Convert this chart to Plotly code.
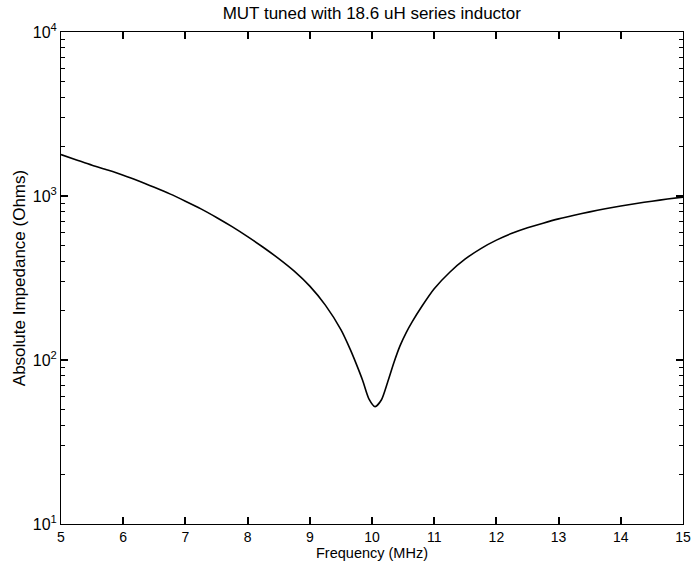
import plotly.graph_objects as go

freq_mhz = [5.0, 5.25, 5.5, 5.75, 6.0, 6.25, 6.5, 6.75, 7.0, 7.25, 7.5, 7.75, 8.0, 8.25, 8.5, 8.75,
            9.0, 9.25, 9.5, 9.65, 9.75, 9.85, 9.95, 10.05, 10.15, 10.25, 10.35, 10.45, 10.55, 10.65,
            10.8, 11.0, 11.25, 11.5, 11.75, 12.0, 12.25, 12.5, 12.75, 13.0, 13.25, 13.5, 13.75, 14.0,
            14.25, 14.5, 14.75, 15.0]
impedance_ohms = [1790, 1660, 1540, 1440, 1340, 1235, 1130, 1030, 930, 835, 740, 650, 565, 487, 415, 348,
                  282, 216, 153, 116, 94, 75, 58, 52, 57, 73, 96, 122, 147, 172,
                  212, 272, 343, 413, 478, 538, 592, 640, 683, 725, 763, 800, 836, 870,
                  900, 930, 958, 985]

y_tickvals = [10, 100, 1000, 10000]
y_ticktext = ["10<sup>1</sup>", "10<sup>2</sup>", "10<sup>3</sup>", "10<sup>4</sup>"]
x_tickvals = [5, 6, 7, 8, 9, 10, 11, 12, 13, 14, 15]
y_minor = [m * d for d in (10, 100, 1000) for m in range(2, 10)]

fig = go.Figure()
fig.add_trace(go.Scatter(x=freq_mhz, y=impedance_ohms, mode="lines",
                         line=dict(color="black", width=1.6, shape="spline", smoothing=0.7),
                         showlegend=False))

font = dict(family="Liberation Sans, Arial, sans-serif", color="black")
fig.update_layout(
    width=695, height=561,
    margin=dict(l=61, r=12, t=32, b=37),
    paper_bgcolor="white", plot_bgcolor="white",
    font=dict(size=16, **font),
    title=dict(text="MUT tuned with 18.6 uH series inductor", x=0.535, xanchor="center",
               y=0.976, yanchor="middle", font=dict(size=17, **font)),
    annotations=[dict(text="Frequency (MHz)", xref="paper", yref="paper", x=0.5, y=-0.0589,
                      xanchor="center", yanchor="middle", showarrow=False,
                      font=dict(size=14.5, **font))],
)
fig.update_xaxes(range=[5, 15], tickvals=x_tickvals, ticks="inside", ticklen=7,
                 tickcolor="black", tickwidth=1.5,
                 showline=True, linecolor="black", linewidth=1, mirror="allticks",
                 showgrid=False, zeroline=False, automargin=False,
                 tickfont=dict(size=14, **font))
fig.update_yaxes(type="log", range=[1, 4], tickvals=y_tickvals, ticktext=y_ticktext,
                 ticks="inside", ticklen=7, tickcolor="black", tickwidth=1.5,
                 minor=dict(tickvals=y_minor, ticks="inside", ticklen=4, tickcolor="black",
                            tickwidth=1.2, showgrid=False),
                 showline=True, linecolor="black", linewidth=1, mirror="allticks",
                 showgrid=False, zeroline=False, automargin=False,
                 title=dict(text="Absolute Impedance (Ohms)", standoff=2, font=dict(size=17, **font)),
                 tickfont=dict(size=16, **font))

fig.write_html("out.html")
